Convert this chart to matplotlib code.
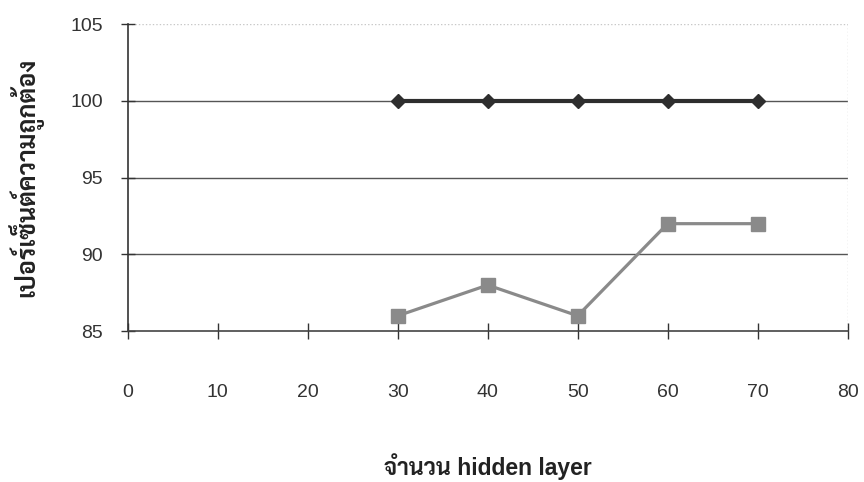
import matplotlib
matplotlib.use("Agg")
import matplotlib.pyplot as plt
from matplotlib import font_manager

hidden = [30, 40, 50, 60, 70]
acc_train = [100, 100, 100, 100, 100]
acc_test = [86, 88, 86, 92, 92]

xticks = [0, 10, 20, 30, 40, 50, 60, 70, 80]
yticks = [85, 90, 95, 100, 105]

# pick a Thai-capable face for the axis titles
names = {f.name for f in font_manager.fontManager.ttflist}
thai = next((n for n in ["Sarabun", "Noto Sans Thai", "Bai Jamjuree", "Athiti"] if n in names), "DejaVu Sans")
fam = ["Liberation Sans", thai, "DejaVu Sans"]

fig = plt.figure(figsize=(8.64, 4.82), dpi=100)
ax = fig.add_axes([0.148, 0.313, 0.833, 0.637])

for y in [90, 95, 100]:
    ax.axhline(y, color="#555555", lw=1.0, zorder=1)
ax.axhline(105, color="#c8c8c8", lw=1.0, ls=(0, (1, 1.5)), zorder=1)
ax.axvline(80, color="#c8c8c8", lw=1.0, ls=(0, (1, 1.5)), zorder=1)

ax.plot(hidden, acc_train, color="#2e2e2e", lw=3.0, marker="D", ms=7.5, zorder=3)
ax.plot(hidden, acc_test, color="#8a8a8a", lw=2.3, marker="s", ms=9.5, zorder=3)

ax.set_xlim(0, 80)
ax.set_ylim(85, 105)
ax.set_xticks(xticks)
ax.set_yticks(yticks)

for side in ["top", "right"]:
    ax.spines[side].set_visible(False)
ax.spines["left"].set_color("#333333")
ax.spines["bottom"].set_color("#444444")
ax.spines["left"].set_linewidth(1.2)
ax.spines["bottom"].set_linewidth(1.2)

ax.tick_params(axis="y", direction="inout", length=10, width=1, color="#333333",
               labelsize=14, labelcolor="#333333", pad=13)
ax.tick_params(axis="x", direction="inout", length=12, width=1, color="#333333",
               labelsize=14, labelcolor="#333333", pad=32)
for lab in ax.get_xticklabels() + ax.get_yticklabels():
    lab.set_family(fam)

ax.set_xlabel("จำนวน hidden layer", family=fam, fontsize=16.5, fontweight="bold",
              color="#222222")
ax.set_ylabel("เปอร์เซ็นต์ความถูกต้อง", family=[thai, "DejaVu Sans"], fontsize=18,
              fontweight="bold", color="#222222")
ax.xaxis.set_label_coords(0.5, -0.398)
ax.yaxis.set_label_coords(-0.117, 0.5)

fig.savefig("out.png", dpi=100)
